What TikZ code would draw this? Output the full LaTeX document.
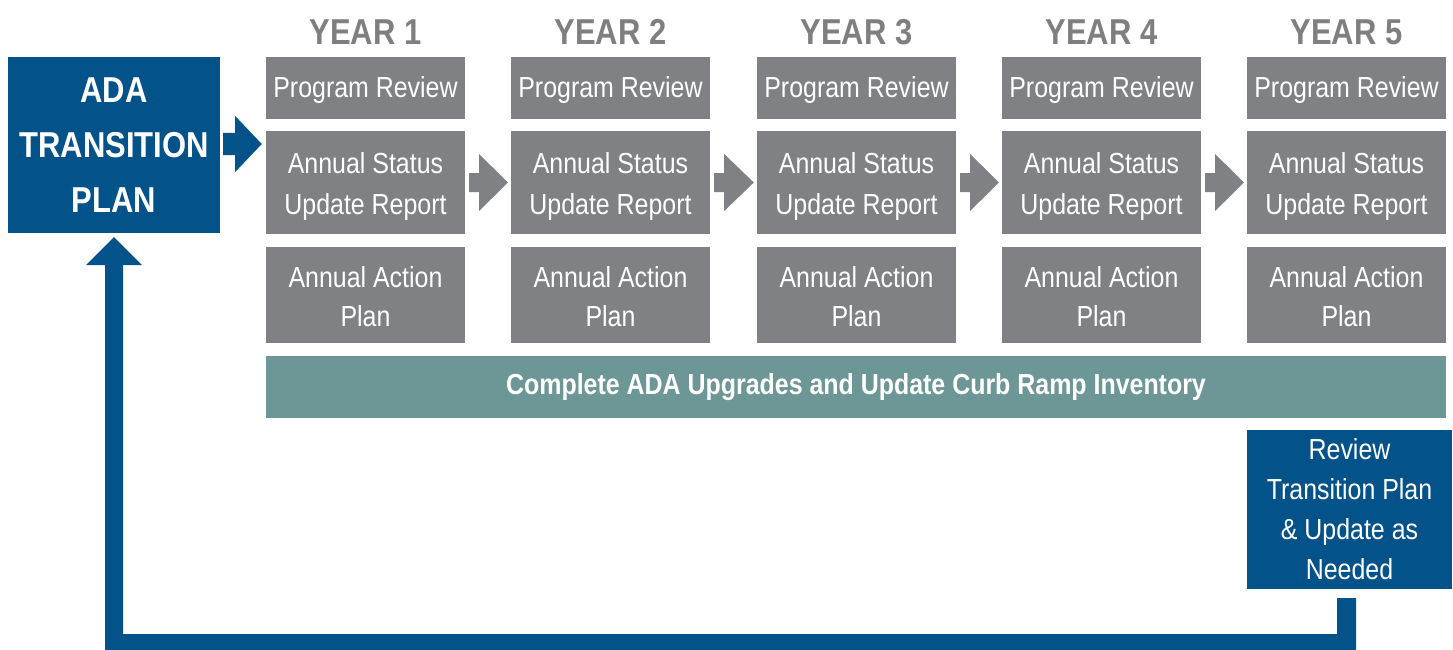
\documentclass[tikz,border=0pt]{standalone}
\usepackage{fontspec}
\setmainfont[FakeStretch=0.86]{Liberation Sans}
\usetikzlibrary{calc}
\definecolor{boxgray}{HTML}{808184}
\definecolor{adablue}{HTML}{03528A}
\definecolor{teal}{HTML}{6D9797}
\definecolor{yeargray}{HTML}{7F7F7F}
\tikzset{
  gbox/.style={fill=boxgray, draw=none, inner sep=0pt, minimum width=199pt},
  gtext/.style={text=white, inner sep=0pt, align=center, font=\fontsize{29}{41}\selectfont},
  yearlbl/.style={text=yeargray, font=\bfseries\fontsize{36}{40}\selectfont, inner sep=0pt},
  bluebox/.style={fill=adablue, draw=none, text=white, inner sep=0pt, align=center},
  garrow/.style={fill=boxgray, draw=none},
  barrow/.style={fill=adablue, draw=none},
}
\begin{document}
\begin{tikzpicture}[x=1pt,y=-1pt]
\useasboundingbox (0,0) rectangle (1453,650);
% ADA box
\node[bluebox, minimum width=212pt, minimum height=176pt, font=\bfseries\fontsize{36}{55}\selectfont] (ada) at (114,145) {ADA\\TRANSITION\\PLAN};
% columns
\foreach \i/\cx in {1/365.5,2/610.5,3/856.5,4/1101.5,5/1346.5}{
  \node[yearlbl] (y\i) at (\cx,32) {YEAR \i};
  \node[gbox, minimum height=62pt, label={[gtext, yshift=-2pt]center:Program Review}] (pr\i) at (\cx,88) {};
  \node[gbox, minimum height=103pt, label={[gtext, yshift=-4pt]center:{Annual Status\\Update Report}}] (as\i) at (\cx,182.5) {};
  \node[gbox, minimum height=96pt, label={[gtext, yshift=-1.5pt, font=\fontsize{29}{39}\selectfont]center:{Annual Action\\Plan}}] (aa\i) at (\cx,295) {};
}
% teal bar
\node[fill=teal, text=white, inner sep=0pt, minimum width=1180pt, minimum height=62pt, font=\bfseries\fontsize{29}{32}\selectfont] (bar) at (856,387) {Complete ADA Upgrades and Update Curb Ramp Inventory};
% review box
\node[bluebox, minimum width=205pt, minimum height=159pt, font=\fontsize{29}{40}\selectfont] (rev) at (1349.5,509.5) {Review\\Transition Plan\\\& Update as\\Needed};
% gray arrows between status boxes
\foreach \a/\b in {1/2,2/3,3/4,4/5}{
  \coordinate (s) at ($(as\a.east)+(4,0)$);
  \fill[garrow] ($(s)+(0,-9.5)$) -- ($(s)+(10,-9.5)$) -- ($(s)+(10,-28.5)$) -- ($(as\b.west)+(-3,0)$)
     -- ($(s)+(10,28.5)$) -- ($(s)+(10,9.5)$) -- ($(s)+(0,9.5)$) -- cycle;
}
% blue arrow from ADA to year 1
\coordinate (t) at ($(ada.east)+(3,-1)$);
\fill[barrow] ($(t)+(0,-11)$) -- ($(t)+(12,-11)$) -- ($(t)+(12,-28)$) -- ($(as1.west |- t)+(-4,0)$)
   -- ($(t)+(12,28)$) -- ($(t)+(12,11)$) -- ($(t)+(0,11)$) -- cycle;
% feedback loop
\coordinate (r0) at (1337,598);
\coordinate (u) at ($(ada.south)+(0,4)$);
\fill[barrow] (r0) -- (1356,598) -- (1356,650) -- (105,650) -- (105,265) -- (86,265) -- (u)
   -- (142,265) -- (123,265) -- (123,634) -- (1337,634) -- cycle;
\end{tikzpicture}
\end{document}
